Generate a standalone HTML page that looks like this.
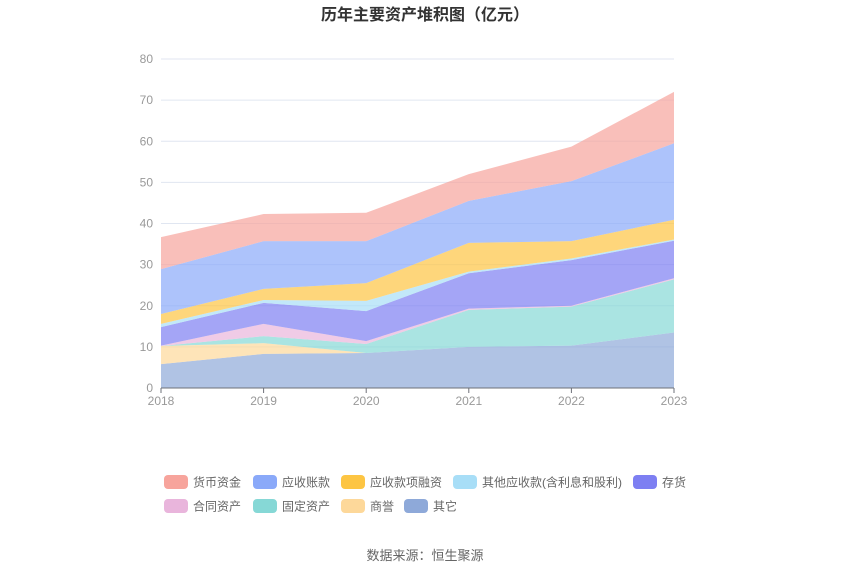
<!DOCTYPE html>
<html><head><meta charset="utf-8"><style>
body{margin:0;background:#fff;width:850px;height:575px;overflow:hidden;font-family:"Liberation Sans","Noto Sans CJK SC",sans-serif}
svg text{font-family:"Liberation Sans","Noto Sans CJK SC",sans-serif}
</style></head><body>
<svg id="chart" width="850" height="575">
<text x="425" y="20" text-anchor="middle" font-size="16" font-weight="bold" fill="#333">历年主要资产堆积图（亿元）</text>
<g id="grid"></g><g id="areas"></g><g id="axes"></g><g id="legend"></g>
<text x="425" y="560" text-anchor="middle" font-size="13" fill="#666">数据来源：恒生聚源</text>
</svg>
<script>
const years=["2018","2019","2020","2021","2022","2023"];
const seriesNames=["其它","商誉","固定资产","合同资产","存货","其他应收款(含利息和股利)","应收款项融资","应收账款","货币资金"];
const other=[5.8,8.3,8.5,10.0,10.3,13.5];
const goodwill=[4.4,2.6,0,0,0,0];
const fixedAssets=[0,1.7,2.2,9.0,9.5,12.9];
const contractAssets=[0.1,3.0,0.7,0.3,0.2,0.3];
const inventory=[4.5,5.1,7.3,8.6,11.1,9.1];
const otherRecv=[0.8,0.7,2.5,0.4,0.4,0.3];
const notesRecv=[2.4,2.7,4.3,7.0,4.2,4.8];
const accountsRecv=[10.9,11.6,10.2,10.2,14.6,18.6];
const cash=[7.8,6.6,6.9,6.5,8.4,12.5];
const yTicks=[0,10,20,30,40,50,60,70,80];
const colors=["#8ea9d9","#fdd89a","#86d8d6","#e9b5dc","#7d7ff2","#a8def7","#fdc543","#8aa9f9","#f7a49c"];
const slugs=["other","goodwill","fixed-assets","contract-assets","inventory","other-receivables","notes-receivable","accounts-receivable","cash"];
const data=[other,goodwill,fixedAssets,contractAssets,inventory,otherRecv,notesRecv,accountsRecv,cash];
const NS="http://www.w3.org/2000/svg";
const x0=161,x1=674,y0=388,yTop=59,yMax=80;
const xs=i=>x0+(x1-x0)*i/(years.length-1);
const ys=v=>y0-(y0-yTop)*v/yMax;
function mk(t,a,p){const e=document.createElementNS(NS,t);for(const k in a)e.setAttribute(k,a[k]);p.appendChild(e);return e;}
const grid=document.getElementById('grid'),axes=document.getElementById('axes'),areas=document.getElementById('areas'),legend=document.getElementById('legend');
yTicks.forEach(t=>{
 if(t>0){const l=mk('line',{x1:x0,x2:x1,y1:ys(t),y2:ys(t),stroke:'#e0e6f1'},grid);
 
 }
 const tx=mk('text',{x:153,y:ys(t)+4,'text-anchor':'end','font-size':12,fill:'#999'},axes);tx.textContent=t;
 
 
});
let base=years.map(()=>0);
data.forEach((s,k)=>{
 const top=s.map((v,i)=>base[i]+v);
 let d=top.map((v,i)=>(i?'L':'M')+xs(i)+','+ys(v)).join(' ');
 for(let i=years.length-1;i>=0;i--)d+=' L'+xs(i)+','+ys(base[i]);
 const p=mk('path',{d:d+'Z',fill:colors[k],'fill-opacity':0.7},areas);
 
 
 base=top;
});
const ax=mk('line',{x1:x0,x2:x1,y1:y0,y2:y0,stroke:'#6e7079'},axes);


years.forEach((y,i)=>{
 mk('line',{x1:xs(i),x2:xs(i),y1:y0,y2:y0+5,stroke:'#6e7079'},axes);
 const t=mk('text',{x:xs(i),y:y0+17,'text-anchor':'middle','font-size':12,fill:'#999'},axes);t.textContent=y;
 
 
});
const legOrder=[8,7,6,5,4,3,2,1,0];
const legPos=[[164,482],[253,482],[341,482],[453,482],[633,482],[164,506],[253,506],[341,506],[404,506]];
legOrder.forEach((k,j)=>{
 const g=mk('g',{},legend);
 
 
 const [lx,ly]=legPos[j];
 mk('rect',{x:lx,y:ly-7,width:24,height:14,rx:4,fill:colors[k]},g);
 const t=mk('text',{x:lx+29,y:ly+4.5,'font-size':12,fill:'#666'},g);t.textContent=seriesNames[k];
});
</script>
</body></html>
